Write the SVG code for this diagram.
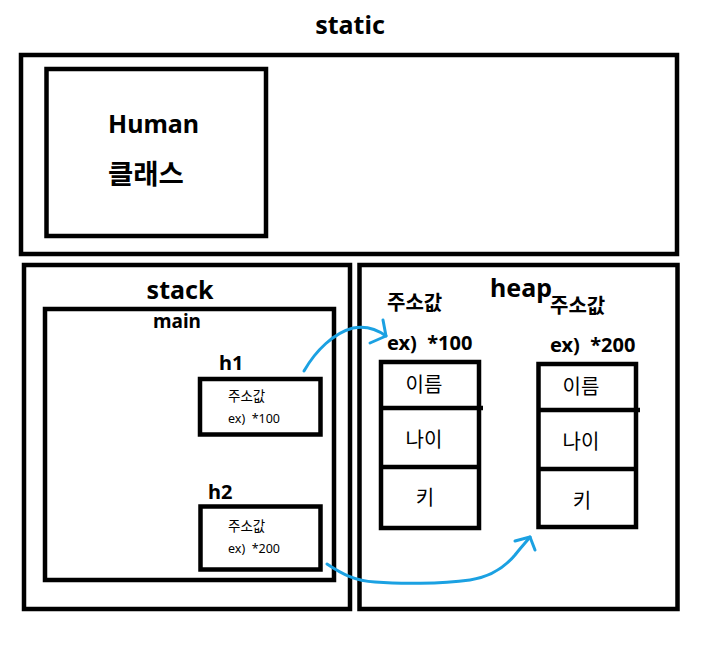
<svg xmlns="http://www.w3.org/2000/svg" width="718" height="648" viewBox="0 0 718 648">
<style>
.box{fill:none;stroke:#000;stroke-width:4.5}
.ln{stroke:#000;stroke-width:4.5}
text{font-family:"Noto Sans","Noto Sans CJK KR",sans-serif;fill:#000}
.b{font-weight:bold}
.big{font-size:25px;font-weight:bold}
.kr{font-family:"Noto Sans CJK KR",sans-serif;font-size:20px}
.sm{font-size:12.5px}
.smk{font-family:"Noto Sans CJK KR",sans-serif;font-size:13.5px}
.arr{fill:none;stroke:#1ba1e2;stroke-width:3;stroke-linecap:round;stroke-linejoin:round}
</style>
<rect width="718" height="648" fill="#fff"/>
<g id="static">
<rect class="box" x="21" y="55" width="656" height="199"/>
<text class="big" x="350" y="34" text-anchor="middle">static</text>
</g>
<g id="human">
<rect class="box" x="46.5" y="69" width="219.5" height="167"/>
<text class="b" x="108" y="133" font-size="25">Human</text>
<text class="b" x="108" y="184" font-size="27.5" font-family="Noto Sans CJK KR, sans-serif">클래스</text>
</g>
<g id="stack">
<rect class="box" x="24" y="265" width="326" height="344"/>
<text class="big" x="180" y="299" text-anchor="middle">stack</text>
</g>
<g id="main">
<rect class="box" x="45" y="309" width="289" height="271"/>
<text class="b" x="177" y="328" text-anchor="middle" font-size="19">main</text>
</g>
<g id="h1">
<text class="b" x="219" y="370" font-size="20">h1</text>
<rect class="box" x="200" y="379" width="120.5" height="55.5"/>
<text class="smk" x="228" y="401">주소값</text>
<text class="sm" x="228" y="423" xml:space="preserve">ex)  *100</text>
</g>
<g id="h2">
<text class="b" x="208" y="499" font-size="20">h2</text>
<rect class="box" x="200.5" y="506.5" width="120" height="63"/>
<text class="smk" x="228" y="531">주소값</text>
<text class="sm" x="228" y="553" xml:space="preserve">ex)  *200</text>
</g>
<g id="heap">
<rect class="box" x="359.5" y="265" width="318" height="344"/>
<text class="big" x="490" y="297">heap</text>
</g>
<g id="obj100">
<text class="b kr" x="387" y="310" font-size="21">주소값</text>
<text class="b" x="387" y="350" font-size="20" xml:space="preserve">ex)  *100</text>
<rect class="box" x="381" y="362" width="98" height="166"/>
<line class="ln" x1="381" y1="408" x2="483" y2="408"/>
<line class="ln" x1="381" y1="467" x2="479" y2="467"/>
<text class="kr" x="424" y="392" text-anchor="middle">이름</text>
<text class="kr" x="424" y="447" text-anchor="middle">나이</text>
<text class="kr" x="425" y="505" text-anchor="middle">키</text>
</g>
<g id="obj200">
<text class="b kr" x="550" y="313" font-size="21">주소값</text>
<text class="b" x="550" y="352" font-size="20" xml:space="preserve">ex)  *200</text>
<rect class="box" x="538.5" y="364" width="97.5" height="163"/>
<line class="ln" x1="538.5" y1="410" x2="640" y2="410"/>
<line class="ln" x1="538.5" y1="469" x2="636" y2="469"/>
<text class="kr" x="581" y="394" text-anchor="middle">이름</text>
<text class="kr" x="581" y="449" text-anchor="middle">나이</text>
<text class="kr" x="582" y="508" text-anchor="middle">키</text>
</g>
<g id="connectors">
<path class="arr" d="M304 371 C316 350 334 333 353 328 C368 325 378 330 386 336"/>
<path class="arr" d="M383 320 L386 336 L370 343"/>
<path class="arr" d="M327 564 C342 574 355 581 375 582 C400 584 440 584 470 580 C490 577 505 567 515 555 C522 546 527 541 530 537"/>
<path class="arr" d="M515 541 L530 537 L535 550"/>
</g>
</svg>
